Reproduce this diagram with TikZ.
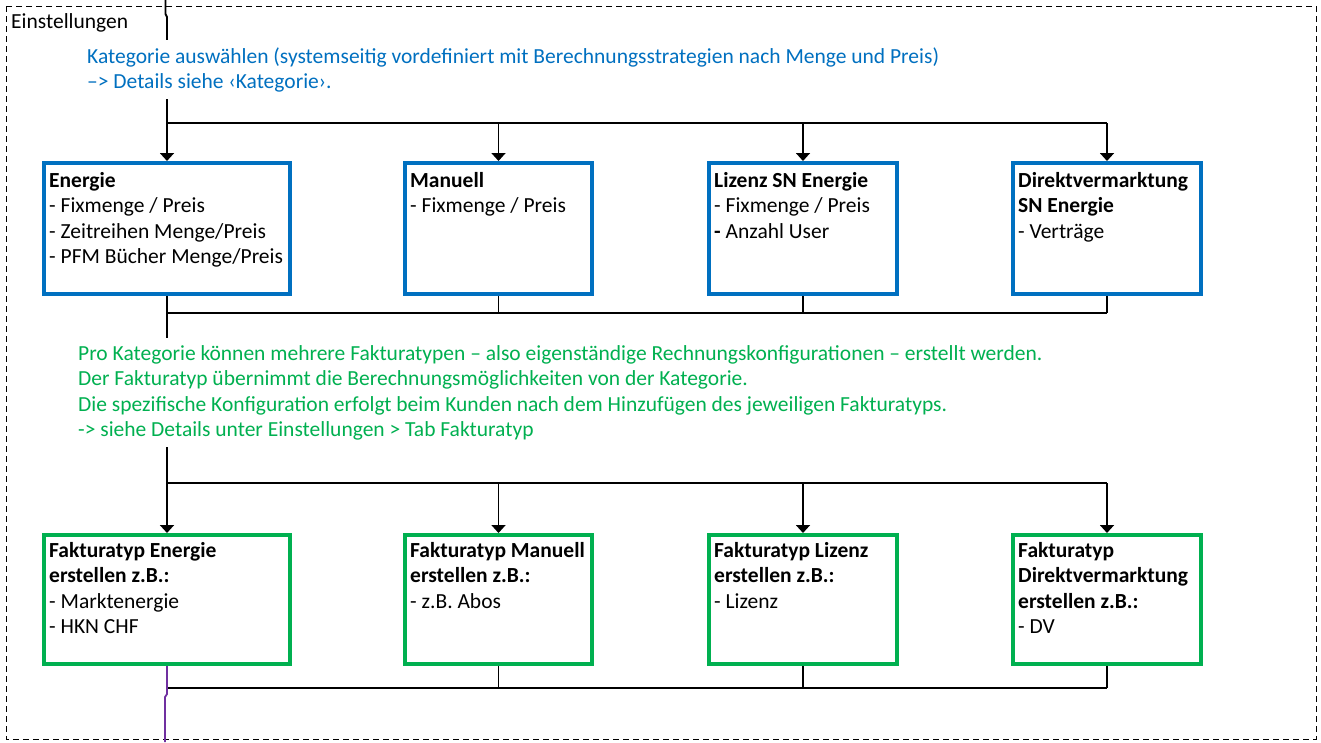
\documentclass[tikz,border=0pt]{standalone}
\usepackage{fontspec}
\setmainfont{Carlito}
\usetikzlibrary{arrows.meta}
\definecolor{xblue}{HTML}{0070C0}
\definecolor{xgreen}{HTML}{00B050}
\definecolor{xpurple}{HTML}{7030A0}
\newcommand{\fs}{\fontsize{21.5}{25.5}\selectfont}
\begin{document}
\begin{tikzpicture}[x=1pt,y=-1pt,
  frame/.style={draw=black, line width=1pt, dash pattern=on 6pt off 4pt},
  catbox/.style={draw=xblue, fill=white, line width=4pt, minimum width=#1, minimum height=131pt, inner sep=0pt},
  fakbox/.style={draw=xgreen, fill=white, line width=4pt, minimum width=#1, minimum height=129pt, inner sep=0pt},
  conn/.style={draw=black, line width=1.8pt},
  arr/.style={conn, -{Triangle[width=14pt,length=8pt]}},
  plink/.style={draw=xpurple, line width=1.8pt},
  boxtxt/.style={anchor=base west, inner sep=0pt, text=black},
  note/.style={anchor=base west, fill=white, inner xsep=0pt, inner ysep=7pt}
]
\useasboundingbox (0,0) rectangle (1321,742);
\draw[frame] (6,6) rectangle (1316,739);
\node[anchor=base west, inner sep=0pt] (einst) at (11,28) {\fs Einstellungen};

% category boxes
\node[catbox=246pt] (b1) at (167,228.5) {};
\node[catbox=187pt] (b2) at (498.5,228.5) {};
\node[catbox=188pt] (b3) at (803,228.5) {};
\node[catbox=188pt] (b4) at (1107,228.5) {};
% fakturatyp boxes
\node[fakbox=246pt] (g1) at (167,599.5) {};
\node[fakbox=187pt] (g2) at (498.5,599.5) {};
\node[fakbox=188pt] (g3) at (803,599.5) {};
\node[fakbox=188pt] (g4) at (1107,599.5) {};

% connectors
\coordinate (top) at (165.5,0);
\coordinate (j1) at (167,123);
\coordinate (j2) at (167,313);
\coordinate (j3) at (167,483);
\coordinate (j4) at (167,688);
\coordinate (out) at (165,742);

\draw[arr] (top) -- ++(0,14) -- ++(1.5,3) -- (j1) -- (b1.north);
\draw[conn] (j1) -- (j1 -| b4.north);
\draw[arr] (j1 -| b2.north) -- (b2.north);
\draw[arr] (j1 -| b3.north) -- (b3.north);
\draw[arr] (j1 -| b4.north) -- (b4.north);

\draw[conn] (b1.south) -- (j2);
\draw[conn] (b2.south) -- (b2.south |- j2);
\draw[conn] (b3.south) -- (b3.south |- j2);
\draw[conn] (b4.south) -- (b4.south |- j2);
\draw[conn] (j2) -- (j2 -| b4.south);
\draw[arr] (j2) -- (j3) -- (g1.north);
\draw[conn] (j3) -- (j3 -| g4.north);
\draw[arr] (j3 -| g2.north) -- (g2.north);
\draw[arr] (j3 -| g3.north) -- (g3.north);
\draw[arr] (j3 -| g4.north) -- (g4.north);

\draw[conn] (g2.south) -- (g2.south |- j4);
\draw[conn] (g3.south) -- (g3.south |- j4);
\draw[conn] (g4.south) -- (g4.south |- j4);
\draw[conn] (j4) -- (j4 -| g4.south);
\draw[plink] (g1.south) -- ++(0,28) -- ++(-2,3) -- (out);

% notes
\node[note, text=xblue] (nblue) at (87,63) {\parbox[t]{950pt}{\raggedright\fs Kategorie auswählen (systemseitig vordefiniert mit Berechnungsstrategien nach Menge und Preis)\\–> Details siehe ‹Kategorie›.}};
\node[note, text=xgreen] (ngreen) at (78,360) {\parbox[t]{1050pt}{\raggedright\fs Pro Kategorie können mehrere Fakturatypen – also eigenständige Rechnungskonfigurationen – erstellt werden.\\Der Fakturatyp übernimmt die Berechnungsmöglichkeiten von der Kategorie.\\Die spezifische Konfiguration erfolgt beim Kunden nach dem Hinzufügen des jeweiligen Fakturatyps.\\-> siehe Details unter Einstellungen > Tab Fakturatyp}};

% box texts
\node[boxtxt] (t1) at (49,187) {\parbox[t]{240pt}{\raggedright\fs\textbf{Energie}\\- Fixmenge / Preis\\- Zeitreihen Menge/Preis\\- PFM Bücher Menge/Preis}};
\node[boxtxt] (t2) at (410,187) {\parbox[t]{180pt}{\raggedright\fs\textbf{Manuell}\\- Fixmenge / Preis}};
\node[boxtxt] (t3) at (714,187) {\parbox[t]{180pt}{\raggedright\fs\textbf{Lizenz SN Energie}\\- Fixmenge / Preis\\\textbf{-} Anzahl User}};
\node[boxtxt] (t4) at (1018,187) {\parbox[t]{180pt}{\raggedright\fs\textbf{Direktvermarktung}\\\textbf{SN Energie}\\- Verträge}};

\node[boxtxt] (u1) at (49,557) {\parbox[t]{240pt}{\raggedright\fs\textbf{Fakturatyp Energie}\\\textbf{erstellen z.B.:}\\- Marktenergie\\- HKN CHF}};
\node[boxtxt] (u2) at (410,557) {\parbox[t]{180pt}{\raggedright\fs\textbf{Fakturatyp Manuell}\\\textbf{erstellen z.B.:}\\- z.B. Abos}};
\node[boxtxt] (u3) at (714,557) {\parbox[t]{180pt}{\raggedright\fs\textbf{Fakturatyp Lizenz}\\\textbf{erstellen z.B.:}\\- Lizenz}};
\node[boxtxt] (u4) at (1018,557) {\parbox[t]{180pt}{\raggedright\fs\textbf{Fakturatyp}\\\textbf{Direktvermarktung}\\\textbf{erstellen z.B.:}\\- DV}};
\end{tikzpicture}
\end{document}
